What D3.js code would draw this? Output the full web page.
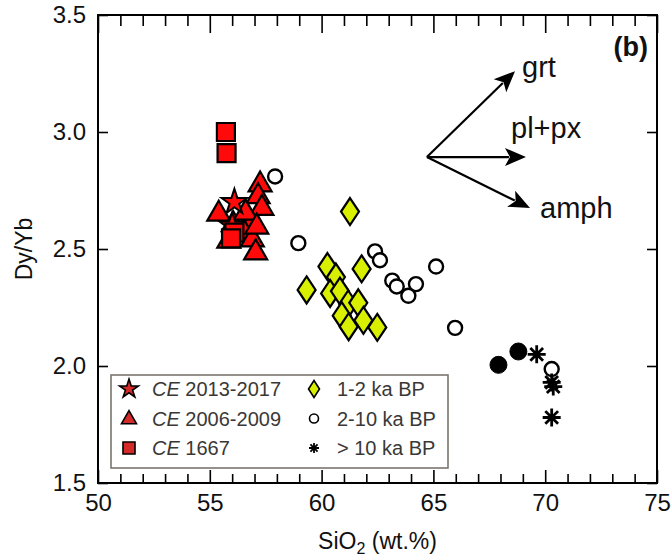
<!DOCTYPE html>
<html><head><meta charset="utf-8">
<script src="https://cdn.jsdelivr.net/npm/d3@7"></script>
<style>body{margin:0;background:#fff}svg{display:block}text{font-family:"Liberation Sans",Arial,Helvetica,sans-serif}</style>
</head><body><svg id="c" width="671" height="558"></svg>
<script>
// ---- data (SiO2 wt.%, Dy/Yb) ----
const xTicks = [50,55,60,65,70,75];
const yTicks = [1.5,2.0,2.5,3.0,3.5];
const stars2013 = [[56.0,2.60],[56.1,2.70]];
const triangles2006 = [[57.25,2.78],[57.16,2.73],[57.33,2.68],[55.4,2.655],[56.8,2.62],[56.05,2.61],[56.5,2.58],[55.85,2.54],[56.9,2.545],[57.05,2.49],[56.6,2.66],[57.1,2.60]];
const squares1667 = [[55.72,3.0],[55.75,2.91],[56.1,2.57],[55.95,2.545]];
const diamonds1to2 = [[61.27,2.66],[60.26,2.425],[60.64,2.38],[61.79,2.415],[59.33,2.325],[60.38,2.31],[60.82,2.32],[61.19,2.265],[61.64,2.27],[60.9,2.215],[61.87,2.195],[61.21,2.168],[62.49,2.165]];
const circles2to10 = [[57.92,2.81],[58.96,2.525],[62.39,2.49],[62.61,2.452],[65.12,2.425],[63.16,2.365],[63.36,2.34],[64.22,2.35],[63.88,2.30],[65.97,2.163],[70.29,1.987]];
const filledCircles = [[67.91,2.005],[68.8,2.062]];
const asterisksGt10 = [[69.62,2.05],[70.29,1.93],[70.36,1.912],[70.29,1.78]];
const arrowOrigin = [64.71,2.893];
const arrows = [{label:"grt",tip:[68.65,3.26]},{label:"pl+px",tip:[69.14,2.893]},{label:"amph",tip:[69.32,2.675]}];
const legendItems = [
  {shape:"star",label:"2013-2017"},{shape:"triangle",label:"2006-2009"},{shape:"square",label:"1667"},
  {shape:"diamond",label:"1-2 ka BP"},{shape:"circle",label:"2-10 ka BP"},{shape:"asterisk",label:"> 10 ka BP"}];

const svg = d3.select("#c");
const L=98,R=657,T=15,B=483;
const x = d3.scaleLinear().domain([50,75]).range([L,R]);
const y = d3.scaleLinear().domain([1.5,3.5]).range([B,T]);

// frame
svg.append("rect").attr("x",L).attr("y",T).attr("width",R-L).attr("height",B-T)
  .attr("fill","none").attr("stroke","#000").attr("stroke-width",2);

// ticks
const minor = d3.range(51,75).filter(v=>v%5!==0);
const gBot = svg.append("g").attr("transform",`translate(0,${B})`);
gBot.call(d3.axisBottom(x).tickValues(xTicks.concat(minor)).tickSize(0).tickFormat(d=>xTicks.includes(d)?d:""));
gBot.select(".domain").remove();
gBot.selectAll(".tick").append("line").attr("y2",d=>xTicks.includes(d)?-13:-9).attr("stroke","#000").attr("stroke-width",1.6);
gBot.selectAll(".tick text").attr("font-size",24).attr("fill","#111").attr("dy","0.95em").attr("y",5);

const gTop = svg.append("g").attr("transform",`translate(0,${T})`);
gTop.call(d3.axisTop(x).tickValues(xTicks.concat(minor)).tickSize(0).tickFormat(""));
gTop.select(".domain").remove();
gTop.selectAll(".tick").append("line").attr("y2",d=>xTicks.includes(d)?18:11).attr("stroke","#000").attr("stroke-width",1.6);

const gLeft = svg.append("g").attr("transform",`translate(${L},0)`);
gLeft.call(d3.axisLeft(y).tickValues(yTicks).tickSize(0).tickFormat(d3.format(".1f")));
gLeft.select(".domain").remove();
gLeft.selectAll(".tick").append("line").attr("x2",10).attr("stroke","#000").attr("stroke-width",1.6);
gLeft.selectAll(".tick text").attr("font-size",24).attr("fill","#111").attr("x",-12);

const gRight = svg.append("g").attr("transform",`translate(${R},0)`);
gRight.call(d3.axisRight(y).tickValues(yTicks).tickSize(0).tickFormat(""));
gRight.select(".domain").remove();
gRight.selectAll(".tick").append("line").attr("x2",-10).attr("stroke","#000").attr("stroke-width",1.6);

// axis titles
svg.append("text").attr("transform",`translate(32,${y(2.5)}) rotate(-90)`).attr("text-anchor","middle")
  .attr("font-size",23).attr("fill","#111").text("Dy/Yb");
const xt = svg.append("text").attr("x",(L+R)/2).attr("y",549).attr("text-anchor","middle").attr("font-size",23).attr("fill","#111");
xt.append("tspan").text("SiO");
xt.append("tspan").attr("font-size",16).attr("dy",5).text("2");
xt.append("tspan").attr("dy",-5).text(" (wt.%)");

// symbols
const RED="#ff0a0a", YEL="#d9ef00";
const plot = svg.append("g");
function draw(data,pathD,fill,stroke,sw){
  plot.selectAll(null).data(data).enter().append("path")
    .attr("transform",d=>`translate(${x(d[0])},${y(d[1])})`)
    .attr("d",pathD).attr("fill",fill).attr("stroke",stroke).attr("stroke-width",sw).attr("stroke-linejoin","miter");
}
function diamondPath(w,h){return `M0,${-h/2}L${w/2},0L0,${h/2}L${-w/2},0Z`;}
function asteriskPath(r){let p="";for(let i=0;i<4;i++){const a=i*Math.PI/4;p+=`M${-r*Math.cos(a)},${-r*Math.sin(a)}L${r*Math.cos(a)},${r*Math.sin(a)}`;}return p;}
function triPath(s){const h=s*Math.sqrt(3)/2;return `M0,${-h*0.6}L${s/2},${h*0.4}L${-s/2},${h*0.4}Z`;}
function squarePath(s){return `M${-s/2},${-s/2}H${s/2}V${s/2}H${-s/2}Z`;}

draw(circles2to10, d3.symbol().type(d3.symbolCircle).size(Math.PI*7*7)(), "#fff","#000",2.4);
draw(filledCircles, d3.symbol().type(d3.symbolCircle).size(Math.PI*8.5*8.5)(), "#000","#000",1);
draw(asterisksGt10, asteriskPath(9), "none","#000",2.8);
draw(diamonds1to2, diamondPath(18,27), YEL,"#000",2.2);
draw(triangles2006, triPath(23), RED,"#000",2.2);
draw(stars2013, d3.symbol().type(d3.symbolStar).size(200)(), RED,"#000",2);
draw(squares1667, squarePath(18), RED,"#000",2.2);

// arrows
const ag = svg.append("g");
arrows.forEach(a=>{
  const x0=x(arrowOrigin[0]),y0=y(arrowOrigin[1]),x1=x(a.tip[0]),y1=y(a.tip[1]);
  const ang=Math.atan2(y1-y0,x1-x0), hl=21, hw=9;
  const bx=x1-hl*Math.cos(ang), by=y1-hl*Math.sin(ang);
  ag.append("line").attr("x1",x0).attr("y1",y0).attr("x2",bx+4*Math.cos(ang)).attr("y2",by+4*Math.sin(ang)).attr("stroke","#000").attr("stroke-width",2.2);
  const nx=-Math.sin(ang), ny=Math.cos(ang);
  ag.append("path").attr("d",`M${x1},${y1}L${bx+hw*nx},${by+hw*ny}L${bx+5*Math.cos(ang)},${by+5*Math.sin(ang)}L${bx-hw*nx},${by-hw*ny}Z`).attr("fill","#000");
});
const labelPos = {"grt":[522,77],"pl+px":[511,138],"amph":[540,218]};
arrows.forEach(a=>{svg.append("text").attr("x",labelPos[a.label][0]).attr("y",labelPos[a.label][1]).attr("font-size",29).attr("fill","#111").text(a.label);});
svg.append("text").attr("x",648).attr("y",56).attr("text-anchor","end").attr("font-size",27).attr("font-weight","bold").attr("fill","#111").text("(b)");

// legend
const lg = svg.append("g");
lg.append("rect").attr("x",111).attr("y",375).attr("width",337).attr("height",93).attr("fill","#fff").attr("stroke","#7a7570").attr("stroke-width",1.6);
const LRED="#d42a2a";
legendItems.forEach((it,i)=>{
  const col=Math.floor(i/3), row=i%3;
  const sx = col===0?129:314, ty = 396+row*29.5, sy=ty-7;
  const g = lg.append("g").attr("transform",`translate(${sx},${sy})`);
  if(it.shape==="star") g.append("path").attr("d",d3.symbol().type(d3.symbolStar).size(110)()).attr("fill",LRED).attr("stroke","#000").attr("stroke-width",1.6);
  if(it.shape==="triangle") g.append("path").attr("d",triPath(15)).attr("fill",LRED).attr("stroke","#000").attr("stroke-width",1.6);
  if(it.shape==="square") g.append("path").attr("d",squarePath(12)).attr("fill",LRED).attr("stroke","#000").attr("stroke-width",1.6);
  if(it.shape==="diamond") g.append("path").attr("d",diamondPath(11,17)).attr("fill",YEL).attr("stroke","#000").attr("stroke-width",1.6);
  if(it.shape==="circle") g.append("circle").attr("r",4.5).attr("fill","#fff").attr("stroke","#000").attr("stroke-width",1.6);
  if(it.shape==="asterisk") g.append("path").attr("d",asteriskPath(5)).attr("stroke","#000").attr("stroke-width",1.8);
  const t = lg.append("text").attr("x",col===0?152:337).attr("y",ty).attr("font-size",20).attr("fill","#3a3836");
  if(col===0){t.append("tspan").attr("font-style","italic").text("CE");t.append("tspan").text(" "+it.label);}
  else t.text(it.label);
});
</script></body></html>
